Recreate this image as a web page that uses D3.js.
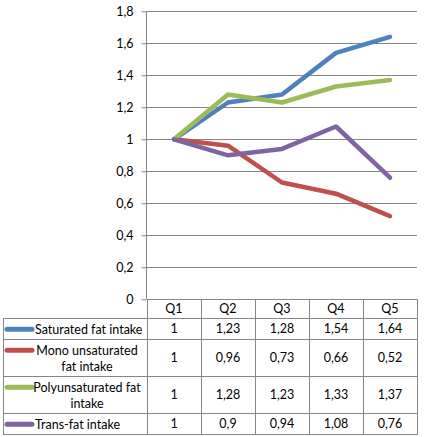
<!DOCTYPE html>
<html>
<head>
<meta charset="utf-8">
<script src="https://cdn.jsdelivr.net/npm/d3@7"></script>
<style>
  body { margin: 0; background: #fff; }
  text { font-family: Lato, "Open Sans", sans-serif; font-size: 12.5px; fill: #000; }
</style>
</head>
<body>
<div id="chart"></div>
<script>
const width = 425;
const height = 437;

// data
const quarters = ["Q1", "Q2", "Q3", "Q4", "Q5"];
const saturated = [1, 1.23, 1.28, 1.54, 1.64];
const mono = [1, 0.96, 0.73, 0.66, 0.52];
const poly = [1, 1.28, 1.23, 1.33, 1.37];
const trans = [1, 0.9, 0.94, 1.08, 0.76];
const seriesLabels = [["Saturated fat intake"], ["Mono unsaturated", "fat intake"], ["Polyunsaturated fat", "intake"], ["Trans-fat intake"]];
const seriesColors = ["#4F81BD", "#C0504D", "#9BBB59", "#8064A2"];
const yTicks = [0, 0.2, 0.4, 0.6, 0.8, 1, 1.2, 1.4, 1.6, 1.8];

const series = [saturated, mono, poly, trans].map((v, i) => ({ values: v, label: seriesLabels[i], color: seriesColors[i] }));

const plotLeft = 147, plotRight = 417, plotTop = 11.3, plotBottom = 299.3;
const tableLeft = 3;
const gridColor = "#868686";
const fmt = v => String(v).replace(".", ",");

let svg = d3.select("#chart")
    .append("svg")
    .attr("width", width)
    .attr("height", height);

//scales
const xScale = d3.scaleBand()
    .domain(quarters)
    .range([plotLeft, plotRight])
    .padding(0);
const yScale = d3.scaleLinear()
    .domain([0, 1.8])
    .range([plotBottom, plotTop]);

//gridlines
svg.append("g")
    .selectAll("line")
    .data(yTicks.filter(d => d > 0))
    .enter()
    .append("line")
    .attr("x1", plotLeft).attr("x2", plotRight)
    .attr("y1", d => Math.round(yScale(d)) + 0.5)
    .attr("y2", d => Math.round(yScale(d)) + 0.5)
    .attr("stroke", gridColor)
    .attr("stroke-width", 1);

//y axis
const yAxis = svg.append("g")
    .attr("transform", "translate(" + (plotLeft - 0.5) + ",0)")
    .call(d3.axisLeft(yScale).tickValues(yTicks).tickFormat(fmt).tickSize(5).tickPadding(8));
yAxis.select(".domain").attr("stroke", gridColor).attr("d", "M0," + plotTop + "V" + plotBottom);
yAxis.selectAll(".tick line").attr("stroke", gridColor);
yAxis.selectAll(".tick text")
    .style("font-family", "Lato, 'Open Sans', sans-serif")
    .style("font-size", "12.5px")
    .attr("fill", "#000");

//lines
const line = d3.line()
    .x((d, i) => xScale(quarters[i]) + xScale.bandwidth() / 2)
    .y(d => yScale(d));

svg.append("g")
    .selectAll("path")
    .data(series)
    .enter()
    .append("path")
    .attr("d", d => line(d.values))
    .attr("fill", "none")
    .attr("stroke", d => d.color)
    .attr("stroke-width", 4.5)
    .attr("stroke-linejoin", "round")
    .attr("stroke-linecap", "round");

//data table
const headerH = 19;
const lineH = 16;
let rowTops = [];
let y = plotBottom + headerH;
series.forEach(s => {
    const h = 21 + (s.label.length - 1) * lineH;
    rowTops.push({ top: y, h: h });
    y += h;
});
const tableBottom = y;

const table = svg.append("g");

//header labels
table.selectAll(".qlabel")
    .data(quarters)
    .enter()
    .append("text")
    .attr("class", "qlabel")
    .attr("x", d => xScale(d) + xScale.bandwidth() / 2)
    .attr("y", plotBottom + headerH / 2)
    .attr("dy", "0.35em")
    .attr("text-anchor", "middle")
    .text(d => d);

//horizontal borders
const hLines = [{ y: plotBottom, x1: plotLeft }, { y: plotBottom + headerH, x1: tableLeft }]
    .concat(rowTops.map(r => ({ y: r.top + r.h, x1: tableLeft })));
table.selectAll(".hline")
    .data(hLines)
    .enter()
    .append("line")
    .attr("x1", d => d.x1).attr("x2", plotRight + 0.5)
    .attr("y1", d => Math.round(d.y) + 0.5).attr("y2", d => Math.round(d.y) + 0.5)
    .attr("stroke", gridColor);

//vertical borders
const vLines = quarters.map(q => ({ x: xScale(q), y1: plotBottom })).concat([{ x: plotRight, y1: plotBottom }, { x: tableLeft, y1: plotBottom + headerH }]);
table.selectAll(".vline")
    .data(vLines)
    .enter()
    .append("line")
    .attr("x1", d => Math.round(d.x) + 0.5).attr("x2", d => Math.round(d.x) + 0.5)
    .attr("y1", d => Math.round(d.y1) + 0.5).attr("y2", Math.round(tableBottom) + 0.5)
    .attr("stroke", gridColor);

//rows
const rows = table.selectAll(".row")
    .data(series)
    .enter()
    .append("g")
    .attr("class", "row")
    .attr("transform", (d, i) => "translate(0," + rowTops[i].top + ")");

rows.append("line")
    .attr("x1", 7).attr("x2", 32)
    .attr("y1", 11).attr("y2", 11)
    .attr("stroke", d => d.color)
    .attr("stroke-width", 5)
    .attr("stroke-linecap", "round");

rows.each(function (d, i) {
    const g = d3.select(this);
    const h = rowTops[i].h;
    d.label.forEach((t, k) => {
        g.append("text")
            .attr("x", d.label.length > 1 ? 87 : 35)
            .attr("y", 11 + k * lineH)
            .attr("dy", "0.35em")
            .attr("text-anchor", d.label.length > 1 ? "middle" : "start")
            .text(t);
    });
    g.selectAll(".val")
        .data(d.values)
        .enter()
        .append("text")
        .attr("x", (v, j) => xScale(quarters[j]) + xScale.bandwidth() / 2)
        .attr("y", h / 2)
        .attr("dy", "0.35em")
        .attr("text-anchor", "middle")
        .text(v => fmt(v));
});
</script>
</body>
</html>
